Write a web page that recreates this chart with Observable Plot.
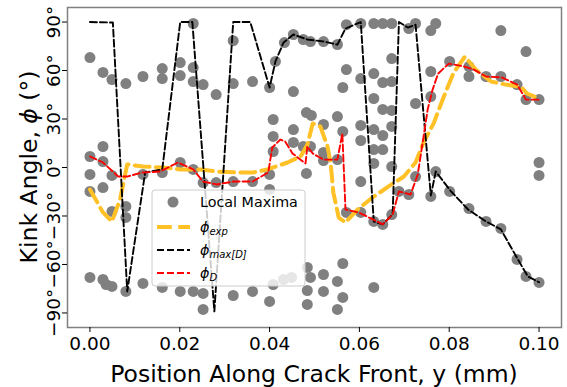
<!DOCTYPE html>
<html><head><meta charset="utf-8">
<script src="https://cdn.jsdelivr.net/npm/d3@7"></script>
<script src="https://cdn.jsdelivr.net/npm/@observablehq/plot@0.6"></script>
<style>
body{margin:0;background:#fff;}
#chart{position:relative;width:567px;height:387px;}
</style></head><body><div id="chart"></div>
<script>
// ---- tick labels ----
const xTicks = [0, 0.02, 0.04, 0.06, 0.08, 0.10];
const yTicks = [-90, -60, -30, 0, 30, 60, 90];

// ---- local maxima: column positions and the kink angles found at each ----
const maxColX = [0, 0.0029, 0.0036, 0.0049, 0.0080, 0.0118, 0.0161, 0.0201, 0.0230, 0.0252,
  0.0281, 0.0319, 0.0362, 0.0400, 0.0408, 0.0413, 0.0431, 0.0433, 0.0449, 0.0453,
  0.0475, 0.0482, 0.0484, 0.0491, 0.0493, 0.0520, 0.0551, 0.0563, 0.0571, 0.0603,
  0.0632, 0.0652, 0.0672, 0.0688, 0.0710, 0.0725, 0.0759, 0.0770, 0.0801, 0.0844,
  0.0882, 0.0915, 0.0951, 0.0971, 0.1000];
const maxColY = [
  [68, 6.8, -4.3, -14.8, -68], [58.8, 13, 3.7, -12.4, -69.3], [-72.4],
  [54.4, -4.9, -27.2, -73.6], [51.9, -24.1, -30.9, -76.7], [56.3, -4.3, -71.7],
  [61.2, 55, -3.1, -74.2], [64.9, 56.9, 3.1, -76.7], [89.1, 61.8, 53.2, -1.2, -76.7],
  [51.3, -9.3, -77.9, -87.8], [45.1, -9.3], [78.5, 51.9, -8.7, -79.2],
  [53.2, -8.7, -76.7], [49.5, -4.3, -13.6, -82.9], [29.7, 19.2, 9.9, -72.4],
  [65.6], [-69.3], [77.3], [-68], [82.3, 47, 23.5, 15.5],
  [79.2, 13], [34, -3.7], [-61.8, -76.1, -84.7], [77.9, 13, -68], [32.2],
  [77.9, 26.6, 9.3, 4.3, -66.2, -76.7], [76.1, 31.5, 4.9, -70.5, -87.8],
  [49.5, 22.3, -59.4, -80.4], [88.4, 60.6, -27.8], [89.1, 55, 26, 16.7, -8.7, -27.8],
  [89.1, 58.1, 42.7, 23.5, 11.1, 2.5, -33.4, -74.2], [89.1, 52.6, 35.9, 19.8, 11.1, -35.2],
  [89.1, 67.4, 53.2, 35.3, 25.4, 0.6, -29.1], [-14.8], [86, -16.7], [89.1, 39.6, -5.6],
  [84.7, 59.4, 43.9, -17.9], [89.1, -2.5], [65.6, -14.8], [62.5, 56.3, -25.4],
  [56.3, -33.4], [84.7, 56.3, -37.7], [51.3, -56.9], [71.7, 42, -67.4],
  [42, 3.1, -4.9, -71.1]
];

// ---- phi_exp ----
const expX = [0, 0.0029, 0.0049, 0.0067, 0.0083, 0.0118, 0.0163, 0.0201, 0.0246, 0.0283,
  0.0328, 0.0364, 0.0395, 0.0440, 0.0469, 0.0484, 0.0496, 0.0513, 0.0529, 0.0536,
  0.0542, 0.0554, 0.0569, 0.0596, 0.0629, 0.0665, 0.0699, 0.0725, 0.0743, 0.0766,
  0.0788, 0.0810, 0.0835, 0.0859, 0.0893, 0.0926, 0.0960, 0.0973, 0.1000];
const expY = [-13.6, -27.8, -33.4, -19.8, 1.9, 0.6, 0, -1.2, -1.2, -2.5,
  -3.1, -3.1, -1.2, 3.1, 6.8, 14, 27.2, 25.4, 13, 2.5,
  -15.5, -31, -34, -26, -18.6, -11.7, -5.6, 3.1, 15.5, 27.8,
  43.9, 58.8, 68.6, 60.6, 53.2, 51.3, 50, 45.8, 42.7];

// ---- phi_max[D] ----
const maxDX = [0, 0.0051, 0.0083, 0.0123, 0.0161, 0.0201, 0.0228, 0.0277, 0.0319, 0.0357,
  0.0400, 0.0413, 0.0431, 0.0453, 0.0484, 0.0520, 0.0551, 0.0569, 0.0603, 0.0632,
  0.0652, 0.0674, 0.0688, 0.0708, 0.0725, 0.0759, 0.0770, 0.0804, 0.0842, 0.0882,
  0.0915, 0.0953, 0.0975, 0.1000];
const maxDY = [90, 89.7, -76.7, -3, -1.2, 90, 90, -89, 90, 90,
  49.5, 65.6, 77.3, 82.3, 79.2, 78, 76, 86, 90, -33.4,
  -35.2, -29, 90, 86.6, 88.4, -17.3, -2.5, -14.8, -26, -33.4,
  -38.3, -56.9, -67.4, -71];

// ---- phi_D ----
const phiDX = [0, 0.0029, 0.0063, 0.0083, 0.0116, 0.0156, 0.0196, 0.0230, 0.0252, 0.0283,
  0.0319, 0.0362, 0.0397, 0.0406, 0.0424, 0.0435, 0.0451, 0.0480, 0.0484, 0.0496,
  0.0520, 0.0551, 0.0562, 0.0569, 0.0598, 0.0629, 0.0652, 0.0674, 0.0688, 0.0714,
  0.0730, 0.0752, 0.0763, 0.0775, 0.0799, 0.0833, 0.0855, 0.0882, 0.0917, 0.0951,
  0.0971, 0.1000];
const phiDY = [6.8, 3.1, -5.6, -5.6, -3.1, -2.5, 3.1, -1.2, -8.7, -10.5,
  -8.7, -8.7, -3.1, 12.4, 17.3, 16, 8.7, 2.5, 13, 8.7,
  4.9, 4.9, 21, -26, -27.8, -32, -35.2, -29, -14.8, -16.7,
  -4.3, 35.9, 48.2, 58, 64.3, 62.5, 60.6, 56.3, 55.7, 51.3,
  42, 42];

const localMaxima = maxColX.flatMap((x, i) => maxColY[i].map(y => ({x, y})));
const pts = (xs, ys) => xs.map((x, i) => ({x, y: ys[i]}));

const YELLOW = "#ffc125", RED = "#ff0000", BLACK = "#000000", GREY = "#808080";
const fmtY = d => (d < 0 ? "\u2212" : "") + Math.abs(d) + "\u00b0";

const chart = Plot.plot({
  width: 567, height: 387,
  marginLeft: 67, marginRight: 6, marginTop: 7, marginBottom: 60,
  style: {fontFamily: "DejaVu Sans, sans-serif", color: "black", background: "white"},
  x: {domain: [-0.005, 0.105]},
  y: {domain: [-99, 99]},
  marks: [
    Plot.dot(localMaxima, {x: "x", y: "y", r: 5.5, fill: GREY, stroke: "none"}),
    Plot.line(pts(expX, expY), {x: "x", y: "y", stroke: YELLOW, strokeWidth: 4, strokeDasharray: "14.8,6.4"}),
    Plot.line(pts(maxDX, maxDY), {x: "x", y: "y", stroke: BLACK, strokeWidth: 1.9, strokeDasharray: "7,3"}),
    Plot.line(pts(phiDX, phiDY), {x: "x", y: "y", stroke: RED, strokeWidth: 1.9, strokeDasharray: "7,3"}),
    Plot.frame({stroke: "#808080", strokeWidth: 1.5}),
    Plot.axisX({ticks: xTicks, tickFormat: d3.format(".2f"), tickSize: 5, tickPadding: 4, fontSize: 18.5, label: null}),
    Plot.axisY({ticks: yTicks, tickFormat: fmtY, tickSize: 5, tickPadding: 3, tickRotate: -90, fontSize: 18.5, label: null})
  ]
});
document.getElementById("chart").appendChild(chart);

// ---- axis titles and legend ----
const svg = d3.select(chart);
const ff = "DejaVu Sans, sans-serif";
svg.append("text").attr("x", 314).attr("y", 382).attr("text-anchor", "middle")
  .attr("font-family", ff).attr("font-size", 23.5).attr("fill", "black")
  .text("Position Along Crack Front, y (mm)");
const yl = svg.append("text").attr("transform", "translate(37,167) rotate(-90)")
  .attr("text-anchor", "middle").attr("font-family", ff).attr("font-size", 23.5).attr("fill", "black");
yl.append("tspan").text("Kink Angle, ");
yl.append("tspan").attr("font-style", "italic").text("\u03d5");
yl.append("tspan").text(" (\u00b0)");

const lg = svg.append("g").attr("font-family", ff).attr("text-anchor", "start");
lg.append("rect").attr("x", 152).attr("y", 190).attr("width", 153).attr("height", 96).attr("rx", 3)
  .attr("fill", "white").attr("fill-opacity", 0.8).attr("stroke", "#cccccc").attr("stroke-width", 1);
lg.append("circle").attr("cx", 173).attr("cy", 202).attr("r", 5.5).attr("fill", GREY);
lg.append("text").attr("x", 200).attr("y", 207).attr("text-anchor", "start").attr("font-size", 14.3).attr("fill", "black").text("Local Maxima");
const entries = [
  {y: 227, color: YELLOW, w: 4, dash: "14.8,6.4", sub: "exp"},
  {y: 250, color: BLACK, w: 1.9, dash: "7,3", sub: "max[D]"},
  {y: 273, color: RED, w: 1.9, dash: "7,3", sub: "D"}
];
for (const e of entries) {
  lg.append("line").attr("x1", 157).attr("x2", 190).attr("y1", e.y).attr("y2", e.y)
    .attr("stroke", e.color).attr("stroke-width", e.w).attr("stroke-dasharray", e.dash);
  const t = lg.append("text").attr("x", 200).attr("y", e.y + 5).attr("text-anchor", "start")
    .attr("font-size", 14.3).attr("fill", "black").attr("font-style", "italic");
  t.append("tspan").text("\u03d5");
  t.append("tspan").attr("font-size", 10).attr("dy", 3).text(e.sub);
}
</script>
</body></html>
